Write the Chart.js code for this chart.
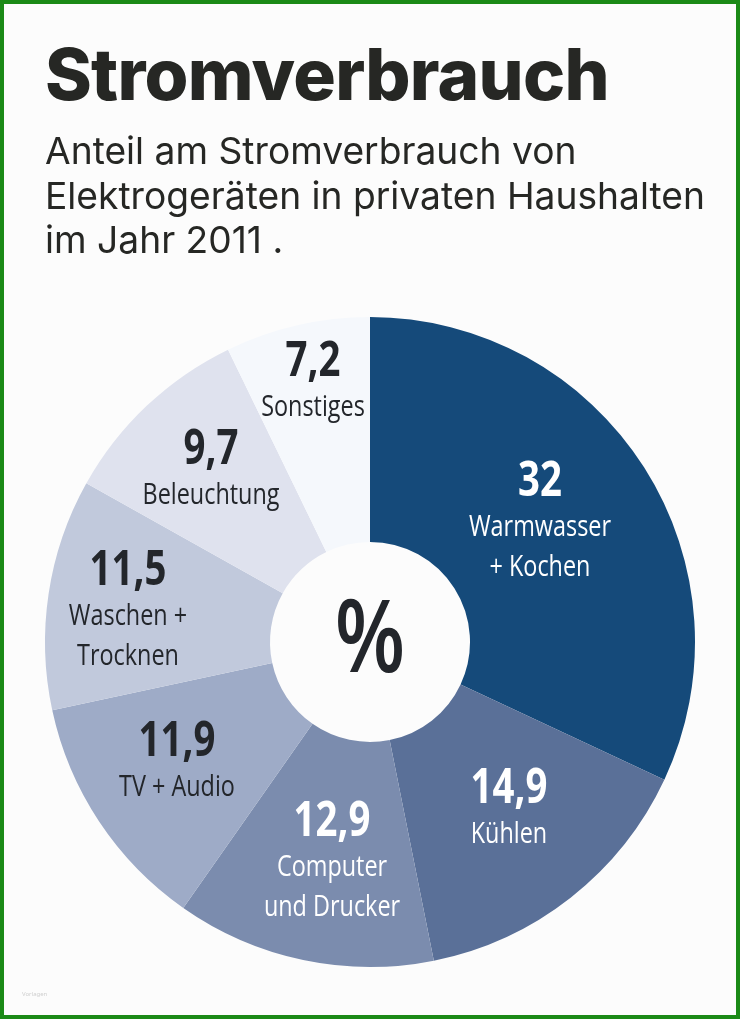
<!DOCTYPE html>
<html lang="de">
<head>
<meta charset="utf-8">
<title>Stromverbrauch</title>
<script src="https://cdn.jsdelivr.net/npm/chart.js@4"></script>
<style>
    html, body { margin: 0; padding: 0; background: #fcfcfc; }
    #page { position: relative; width: 740px; height: 1019px; overflow: hidden; }
    #frame { position: absolute; left: 0; top: 0; width: 732px; height: 1011px; border: 4px solid #1b8a17; }
    #chart { position: absolute; left: 0; top: 0; }
    .head { position: absolute; left: 45px; white-space: nowrap; color: #262724; font-family: Inter, sans-serif; }
    #title { top: 31px; font-size: 71px; line-height: 86px; font-weight: 800; letter-spacing: -0.75px; }
    .sub { font-size: 37.2px; line-height: 44px; font-weight: 400; }
    #credit { position: absolute; left: 22px; top: 990px; font: 6px "Noto Sans", sans-serif; color: #cfcfcf; }
</style>
</head>
<body>
<div id="page">
    <div id="frame"></div>
    <canvas id="chart" width="740" height="1019"></canvas>
    <div class="head" id="title">Stromverbrauch</div>
    <div class="head sub" style="top:129px">Anteil am Stromverbrauch von</div>
    <div class="head sub" style="top:174px">Elektrogeräten in privaten Haushalten</div>
    <div class="head sub" style="top:218px">im Jahr 2011 .</div>
    <div id="credit">Vorlagen</div>
</div>
<script>
const categories = ['Warmwasser + Kochen', 'Kühlen', 'Computer und Drucker', 'TV + Audio', 'Waschen + Trocknen', 'Beleuchtung', 'Sonstiges'];
const shares = [32, 14.9, 12.9, 11.9, 11.5, 9.7, 7.2];
const shareLabels = ['32', '14,9', '12,9', '11,9', '11,5', '9,7', '7,2'];
const labelLines = [['Warmwasser', '+ Kochen'], ['Kühlen'], ['Computer', 'und Drucker'], ['TV + Audio'], ['Waschen +', 'Trocknen'], ['Beleuchtung'], ['Sonstiges']];
const sliceColors = ['#154a7a', '#5a7098', '#7b8cae', '#9eabc7', '#c1c9dc', '#dfe2ee', '#f5f8fc'];
const labelColors = ['#ffffff', '#ffffff', '#ffffff', '#23262b', '#23262b', '#23262b', '#23262b'];
// centre of the number in each slice, lines below follow from it
const labelSpots = [[540, 482], [509, 789], [332, 822], [177, 742], [128, 571], [211, 450], [313, 362]];

// condensed look: squeeze the text horizontally
function drawNarrow(ctx, text, x, y, size, weight, squeeze) {
    ctx.save();
    ctx.translate(x, y);
    ctx.scale(squeeze, 1);
    ctx.font = `${weight} ${size}px "Open Sans", sans-serif`;
    ctx.fillText(text, 0, 0);
    ctx.restore();
}

const sliceLabels = {
    id: 'sliceLabels',
    afterDatasetsDraw(chart) {
        const ctx = chart.ctx;
        const hole = chart.getDatasetMeta(0).data[0];
        ctx.save();
        ctx.textAlign = 'center';
        ctx.textBaseline = 'middle';
        shareLabels.forEach((label, i) => {
            const [x, y] = labelSpots[i];
            ctx.fillStyle = labelColors[i];
            drawNarrow(ctx, label, x, y, 48, 700, 0.8);
            labelLines[i].forEach((line, n) => {
                drawNarrow(ctx, line, x, y + 45 + n * 40, 30, 400, 0.78);
            });
        });
        ctx.fillStyle = '#23262b';
        drawNarrow(ctx, '%', hole.x, hole.y + 1, 102, 600, 0.8);
        ctx.restore();
    }
};

new Chart(document.getElementById('chart'), {
    type: 'doughnut',
    data: {
        labels: categories,
        datasets: [{
            data: shares,
            backgroundColor: sliceColors,
            borderWidth: 0
        }]
    },
    options: {
        responsive: false,
        animation: false,
        cutout: 100,
        radius: 325,
        layout: { padding: { top: 317, bottom: 52, left: 45, right: 45 } },
        plugins: { legend: { display: false }, tooltip: { enabled: false } }
    },
    plugins: [sliceLabels]
});
</script>
</body>
</html>
